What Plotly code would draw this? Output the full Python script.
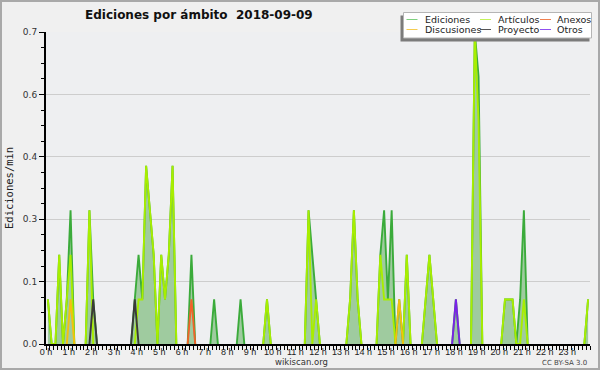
import plotly.graph_objects as go

# ---- data: edits per minute in 10-minute bins (6 bins per hour, 24 rows) ----
ediciones = [
    0.1, 0, 0, 0.2, 0, 0.1,      # 0 h
    0.3, 0, 0, 0, 0, 0.3,        # 1 h
    0.1, 0, 0, 0, 0, 0,          # 2 h
    0, 0, 0, 0, 0, 0.1,          # 3 h
    0.2, 0.1, 0.4, 0.3, 0.2, 0,  # 4 h
    0.2, 0.1, 0.2, 0.4, 0, 0,    # 5 h
    0, 0, 0.2, 0, 0, 0,          # 6 h
    0, 0, 0.1, 0, 0, 0,          # 7 h
    0, 0, 0, 0.1, 0, 0,          # 8 h
    0, 0, 0, 0, 0.1, 0,          # 9 h
    0, 0, 0, 0, 0, 0,            # 10 h
    0, 0, 0, 0.3, 0.2, 0.1,      # 11 h
    0, 0, 0, 0, 0, 0,            # 12 h
    0, 0, 0.1, 0.3, 0.1, 0,      # 13 h
    0, 0, 0, 0, 0.2, 0.3,        # 14 h
    0.1, 0.3, 0, 0.1, 0, 0.2,    # 15 h
    0, 0, 0, 0, 0.1, 0.2,        # 16 h
    0.1, 0, 0, 0, 0, 0,          # 17 h
    0.1, 0, 0, 0, 0, 0.7,        # 18 h
    0.6, 0, 0, 0, 0, 0,          # 19 h
    0, 0.1, 0.1, 0.1, 0, 0.1,    # 20 h
    0.3, 0, 0, 0, 0, 0,          # 21 h
    0, 0, 0, 0, 0, 0,            # 22 h
    0, 0, 0, 0, 0, 0.1,          # 23 h
]
articulos = [
    0.1, 0, 0, 0.2, 0, 0.1,
    0.2, 0, 0, 0, 0, 0.3,
    0, 0, 0, 0, 0, 0,
    0, 0, 0, 0, 0, 0,
    0.1, 0.1, 0.4, 0.3, 0.2, 0,
    0.2, 0.1, 0.2, 0.4, 0, 0,
    0, 0, 0, 0, 0, 0,
    0, 0, 0, 0, 0, 0,
    0, 0, 0, 0, 0, 0,
    0, 0, 0, 0, 0.1, 0,
    0, 0, 0, 0, 0, 0,
    0, 0, 0, 0.3, 0, 0.1,
    0, 0, 0, 0, 0, 0,
    0, 0, 0.1, 0.3, 0.1, 0,
    0, 0, 0, 0, 0.2, 0.1,
    0.1, 0.1, 0, 0, 0, 0.2,
    0, 0, 0, 0, 0.1, 0.2,
    0.1, 0, 0, 0, 0, 0,
    0, 0, 0, 0, 0, 0.7,
    0.5, 0, 0, 0, 0, 0,
    0, 0.1, 0.1, 0.1, 0, 0,
    0.1, 0, 0, 0, 0, 0,
    0, 0, 0, 0, 0, 0,
    0, 0, 0, 0, 0, 0.1,
]
anexos = [0] * 38 + [0.1] + [0] * 105
discusiones = [0] * 6 + [0.1] + [0] * 86 + [0.1] + [0] * 50
proyecto = [0] * 12 + [0.1] + [0] * 10 + [0.1] + [0] * 120
otros = [0] * 108 + [0.1] + [0] * 35

series_names = ["Ediciones", "Artículos", "Anexos", "Discusiones", "Proyecto", "Otros"]
series_values = [ediciones, articulos, anexos, discusiones, proyecto, otros]
series_colors = ["#3bab3b", "#a8ee00", "#f0622a", "#f3c010", "#3a3a3a", "#7a22e8"]
legend_colors = ["#7fd07f", "#c4f25a", "#f08050", "#f5cc50", "#555555", "#9050f0"]

hour_ticks = list(range(24))
hour_labels = [f"{h} h" for h in hour_ticks]
y_ticks = [0, 0.14, 0.28, 0.42, 0.56, 0.70]
y_labels = ["0.0", "0.1", "0.3", "0.4", "0.6", "0.7"]

title_text = "Ediciones por ámbito\u00a0\u00a02018-09-09"
y_title = "Ediciones/min"

# ---- figure ----
W, H = 600, 370
ML, MR, MT, MB = 46, 10, 32, 26
PW, PH = W - ML - MR, H - MT - MB


def px(x):
    return (x - ML) / PW


def py(y):
    return 1 - (y - MT) / PH


def hide_baseline(vals):
    # keep a point only if it or a neighbour is non-zero (baseline runs stay hidden)
    out = []
    n = len(vals)
    for k, v in enumerate(vals):
        near = [vals[j] for j in (k - 1, k, k + 1) if 0 <= j < n]
        out.append(v if any(near) else None)
    return out


x_hours = [(k + 0.5) / 6 for k in range(len(ediciones))]

fig = go.Figure()
for i, (name, vals, col) in enumerate(zip(series_names, series_values, series_colors)):
    fig.add_trace(go.Scatter(
        x=x_hours, y=hide_baseline(vals), name=name, mode="lines",
        line=dict(color=col, width=1.9),
        connectgaps=False,
        fill="tozeroy" if i == 0 else None,
        fillcolor="#9fcb9f" if i == 0 else None,
        hoverinfo="skip",
    ))

shapes = [
    # outer frame
    dict(type="rect", xref="paper", yref="paper",
         x0=px(1), x1=px(W - 1), y0=py(H - 1), y1=py(1),
         line=dict(color="#a9a9a9", width=2), fillcolor="rgba(0,0,0,0)", layer="above"),
    # legend shadow + box
    dict(type="rect", xref="paper", yref="paper",
         x0=px(400.5), x1=px(589.5), y0=py(41.5), y1=py(15.5),
         line=dict(width=0), fillcolor="#7b7b7b", layer="above"),
    dict(type="rect", xref="paper", yref="paper",
         x0=px(403.5), x1=px(591.5), y0=py(38), y1=py(12.5),
         line=dict(color="#b5b5b5", width=1), fillcolor="#ffffff", layer="above"),
]

annotations = [
    dict(text=y_title, xref="paper", yref="paper", x=px(9), y=0.5,
         textangle=-90, showarrow=False, xanchor="center", yanchor="middle",
         font=dict(family="DejaVu Sans Mono", size=10.5, color="#222")),
    dict(text="wikiscan.org", xref="paper", yref="paper", x=px(301), y=py(362),
         showarrow=False, xanchor="center", yanchor="middle",
         font=dict(family="DejaVu Sans", size=8.5, color="#333")),
    dict(text="CC BY-SA 3.0", xref="paper", yref="paper", x=px(589), y=py(362.5),
         showarrow=False, xanchor="right", yanchor="middle",
         font=dict(family="DejaVu Sans", size=7, color="#444")),
]

# custom legend: 3 columns x 2 rows
legend_layout = [("Ediciones", 0, 0), ("Discusiones", 0, 1), ("Artículos", 1, 0),
                 ("Proyecto", 1, 1), ("Anexos", 2, 0), ("Otros", 2, 1)]
col_sw = [406.5, 480, 540]
col_tx = [423, 496, 555]
row_y = [19.5, 29.5]
for name, c, r in legend_layout:
    color = legend_colors[series_names.index(name)]
    shapes.append(dict(type="line", xref="paper", yref="paper",
                       x0=px(col_sw[c]), x1=px(col_sw[c] + 11),
                       y0=py(row_y[r]), y1=py(row_y[r]),
                       line=dict(color=color, width=1), layer="above"))
    annotations.append(dict(text=name, xref="paper", yref="paper",
                            x=px(col_tx[c]), y=py(row_y[r]), showarrow=False,
                            xanchor="left", yanchor="middle",
                            font=dict(family="DejaVu Sans", size=9.5, color="#222")))

fig.update_layout(
    width=W, height=H,
    margin=dict(l=ML, r=MR, t=MT, b=MB, pad=0),
    paper_bgcolor="#f0f0f0", plot_bgcolor="#eeeff1",
    showlegend=False,
    title=dict(text=title_text, x=85 / W, xanchor="left", xref="container",
               y=1 - 15 / H, yanchor="middle", yref="container",
               font=dict(family="DejaVu Sans", size=12, color="#111", weight="bold")),
    xaxis=dict(range=[0, 24], tickvals=hour_ticks, ticktext=hour_labels,
               ticks="outside", ticklen=4, tickwidth=1, tickcolor="black",
               ticklabelstandoff=-6,
               showline=True, linecolor="black", linewidth=2,
               showgrid=False, zeroline=False,
               tickfont=dict(family="Liberation Sans", size=9, color="#222"),
               minor=dict(dtick=1 / 6, tick0=0, ticks="outside", ticklen=4,
                          tickcolor="black", showgrid=False)),
    yaxis=dict(range=[0, 0.7], tickvals=y_ticks, ticktext=y_labels,
               ticks="outside", ticklen=5, tickcolor="black",
               showline=True, linecolor="black", linewidth=2,
               showgrid=True, gridcolor="#cdcdcd", gridwidth=1, zeroline=False,
               tickfont=dict(family="DejaVu Sans", size=9, color="#333"),
               minor=dict(dtick=0.035, tick0=0, ticks="outside", ticklen=3,
                          tickcolor="black", showgrid=False)),
    shapes=shapes, annotations=annotations,
)

fig.write_html("out.html",
               config={"displayModeBar": False},
               post_script="document.body.style.margin='0px';document.body.style.overflow='hidden';")
